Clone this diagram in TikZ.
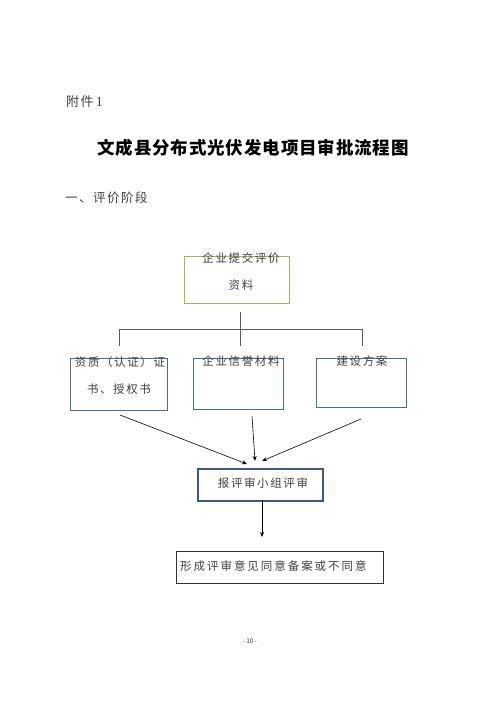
\documentclass[tikz,border=0pt]{standalone}
\usepackage{fontspec}
\setmainfont{Liberation Serif}
\newfontfamily\cjk{Noto Sans CJK SC}
\newfontfamily\cjkls[LetterSpace=14]{Noto Sans CJK SC}
\newfontfamily\cjkwide[LetterSpace=17]{Noto Sans CJK SC}
\newfontfamily\cjkmid[LetterSpace=12]{Noto Sans CJK SC}
\newfontfamily\cjkt[LetterSpace=5]{Noto Sans CJK SC}
\usetikzlibrary{arrows.meta}
\definecolor{boxgreen}{HTML}{9BBB59}
\definecolor{boxblue}{HTML}{4A6B8A}
\definecolor{boxdark}{HTML}{3B5A7A}
\definecolor{txt}{HTML}{404040}
\begin{document}
\begin{tikzpicture}[x=1pt,y=1pt,
  boxbase/.style={rectangle, inner sep=0pt, anchor=north west},
  greenbox/.style={boxbase, draw=boxgreen, line width=1pt},
  bluebox/.style={boxbase, draw=boxblue, line width=1pt},
  darkbox/.style={boxbase, draw=boxdark, line width=1.6pt},
  plainbox/.style={boxbase, draw=black!80, line width=0.8pt},
  boxtext/.style={inner sep=0pt, anchor=base, text=txt, font=\cjkls\fontsize{11.5}{13}\selectfont},
  tree/.style={draw=black!65, line width=0.7pt},
  arr/.style={draw=black, line width=0.6pt, -{Stealth[length=5pt,width=4pt]}}
]
\useasboundingbox (0,0) rectangle (500,707);
\fill[white] (0,0) rectangle (500,707);

% header texts
\node[inner sep=0pt, anchor=base west, text=txt] (att) at (66,600)
  {\cjkmid\fontsize{13}{15}\selectfont 附件\,{\rmfamily\fontsize{14}{16}\selectfont 1}};
\node[inner sep=0pt, anchor=base, text=black] (title) at (253,552)
  {\cjkt\bfseries\fontsize{17.5}{20}\selectfont 文成县分布式光伏发电项目审批流程图};
\node[inner sep=0pt, anchor=base west, text=txt] (sec) at (65,504)
  {\cjkmid\fontsize{12.5}{15}\selectfont 一、评价阶段};

% boxes
\node[greenbox, minimum width=105pt, minimum height=47pt] (b1) at (184,451) {};
\node[boxtext] (b1t1) at (241,444) {企业提交评价};
\node[boxtext] (b1t2) at (241,417) {资料};

\node[bluebox, minimum width=97pt, minimum height=52pt] (ba) at (70,349) {};
\node[boxtext] (bat1) at (120,340) {资质（认证）证};
\node[boxtext] (bat2) at (119,313) {书、授权书};

\node[bluebox, minimum width=90pt, minimum height=51pt] (bb) at (193,349) {};
\node[boxtext] (bbt) at (241,341) {企业信誉材料};

\node[bluebox, minimum width=90pt, minimum height=49pt] (bc) at (316,349) {};
\node[boxtext] (bct) at (362,341) {建设方案};

\node[darkbox, minimum width=125pt, minimum height=32pt] (bd) at (197,239) {};
\node[boxtext] (bdt) at (263,219) {报评审小组评审};

\node[plainbox, minimum width=207pt, minimum height=32pt] (be) at (176,156) {};
\node[boxtext, anchor=base west, font=\cjkwide\fontsize{11.5}{13}\selectfont] (bet) at (180,136) {形成评审意见同意备案或不同意};

% tree connectors
\coordinate (tTop) at (240,395);
\coordinate (tMid) at (240,378);
\coordinate (tMidEnd) at (240,361);
\coordinate (tL) at (119,378);
\coordinate (tLEnd) at (119,361);
\coordinate (tR) at (362,378);
\coordinate (tREnd) at (362,361);
\draw[tree] (tTop) -- (tMidEnd);
\draw[tree] (tLEnd) -- (tL) -- (tR) -- (tREnd);

% arrows to review box
\coordinate (a1s) at (120,292);
\coordinate (a1e) at (247,243);
\coordinate (a2s) at (252,291);
\coordinate (a2e) at (255,246);
\coordinate (a3s) at (361,288);
\coordinate (a3e) at (262,246);
\draw[arr] (a1s) -- (a1e);
\draw[arr] (a2s) -- (a2e);
\draw[arr] (a3s) -- (a3e);

\coordinate (a4s) at (262,207);
\coordinate (a4e) at (262,170);
\draw[arr] (a4s) -- (a4e);

% page number
\node[inner sep=0pt, anchor=base, text=txt] (pg) at (250,63)
  {\cjk\fontsize{6.5}{8}\selectfont -\,10\,-};
\end{tikzpicture}
\end{document}
